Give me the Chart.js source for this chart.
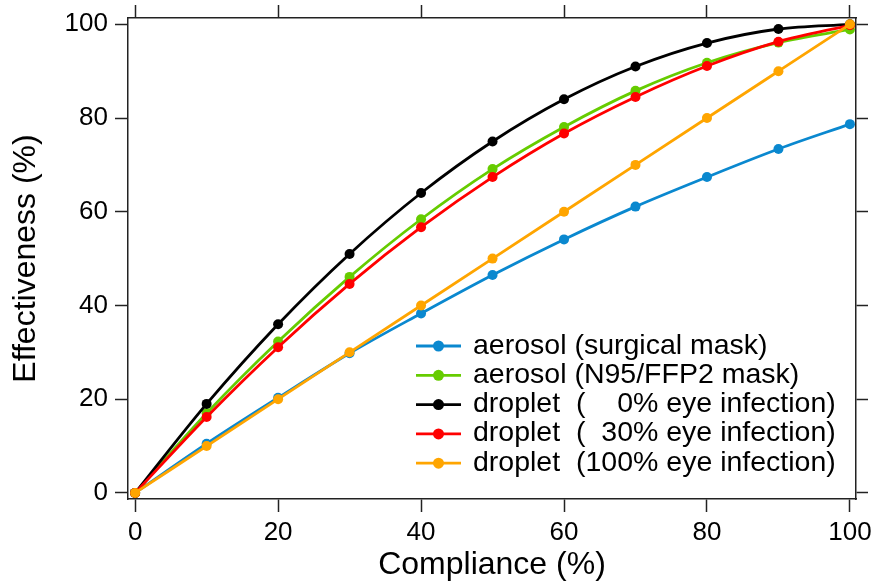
<!DOCTYPE html>
<html><head><meta charset="utf-8">
<script src="https://cdn.jsdelivr.net/npm/chart.js@4"></script>
<style>html,body{margin:0;padding:0;background:#fff;} canvas{display:block;}</style>
</head><body>
<canvas id="c" width="878" height="588"></canvas>
<script>
const compliance = [0,10,20,30,40,50,60,70,80,90,100];
const aerosolSurgical = [0,10.5,20.3,29.8,38.3,46.5,54.1,61.1,67.4,73.4,78.7];
const aerosolN95 = [0,17.0,32.3,46.1,58.4,69.1,78.1,85.8,91.8,96.1,98.9];
const droplet0 = [0,19,36,51,64,75,84,91,96,99,100];
const droplet30 = [0,16.2,31.1,44.6,56.7,67.4,76.7,84.5,91.1,96.3,99.8];
const droplet100 = [0,10,20,30,40,50,60,70,80,90,100];
const seriesLabels = ['aerosol (surgical mask)','aerosol (N95/FFP2 mask)','droplet  (    0% eye infection)','droplet  (  30% eye infection)','droplet  (100% eye infection)'];
const seriesColors = ['#0a88cf','#66cc00','#000000','#ff0000','#ffa500'];
const xTicks = [0,20,40,60,80,100];
const yTicks = [0,20,40,60,80,100];

const seriesValues = [aerosolSurgical, aerosolN95, droplet0, droplet30, droplet100];
const FONT = 'Liberation Sans';

const datasets = seriesValues.map((vals, i) => ({
  label: seriesLabels[i],
  data: compliance.map((x, j) => ({x: x, y: vals[j]})),
  borderColor: seriesColors[i],
  backgroundColor: seriesColors[i],
  pointBackgroundColor: seriesColors[i],
  pointBorderColor: seriesColors[i],
  pointBorderWidth: 0,
  pointRadius: 5,
  borderWidth: 2.8,
  cubicInterpolationMode: 'monotone',
  order: 5 - i,
  xAxisID: 'x', yAxisID: 'y'
}));

const legendPlugin = {
  id: 'customLegend',
  afterDatasetsDraw(chart) {
    const ctx = chart.ctx;
    const x0 = 416, x1 = 461, tx = 473, y0 = 346, dy = 29.3;
    ctx.save();
    chart.data.datasets.forEach((ds, i) => {
      const y = y0 + i * dy;
      ctx.strokeStyle = ds.borderColor; ctx.lineWidth = 2.8;
      ctx.beginPath(); ctx.moveTo(x0, y); ctx.lineTo(x1, y); ctx.stroke();
      ctx.fillStyle = ds.borderColor;
      ctx.beginPath(); ctx.arc((x0 + x1) / 2, y, 5.5, 0, Math.PI * 2); ctx.fill();
      ctx.fillStyle = '#000';
      ctx.font = '28.5px "' + FONT + '"';
      ctx.textBaseline = 'alphabetic'; ctx.textAlign = 'left';
      ctx.fillText(ds.label, tx, y + 7.5);
    });
    ctx.restore();
  }
};

function axis(pos, range, ticksArr, size, tickLen, showLabels, extra) {
  const horiz = pos === 'top' || pos === 'bottom';
  return Object.assign({
    type: 'linear', position: pos, min: range[0], max: range[1],
    afterBuildTicks: s => { s.ticks = ticksArr.map(v => ({value: v})); },
    afterFit: s => {
      if (horiz) s.height = size; else s.width = size;
      s.paddingTop = 0; s.paddingBottom = 0; s.paddingLeft = 0; s.paddingRight = 0;
    },
    border: {display: true, color: '#222', width: 1.5},
    grid: {drawOnChartArea: false, drawTicks: true, tickLength: tickLen, tickColor: '#222', tickWidth: 1.5},
    ticks: {display: showLabels, font: {family: FONT, size: 26}, color: '#000', padding: horiz ? 5 : 7, maxRotation: 0, autoSkip: false}
  }, extra || {});
}

const xRange = [-1, 100.85];
const yRange = [-1.3, 101.35];

new Chart(document.getElementById('c'), {
  type: 'line',
  data: {datasets: datasets},
  options: {
    responsive: false, animation: false, devicePixelRatio: 1,
    layout: {padding: 0},
    plugins: {legend: {display: false}, tooltip: {enabled: false}},
    scales: {
      x: axis('bottom', xRange, xTicks, 89, 13, true, {
        title: {display: true, text: 'Compliance (%)', font: {family: FONT, size: 32}, color: '#000', padding: {top: 0, bottom: 4}}
      }),
      x2: axis('top', xRange, xTicks, 18, 13, false),
      y: axis('left', yRange, yTicks, 128, 13, true, {
        title: {display: true, text: 'Effectiveness (%)', font: {family: FONT, size: 32}, color: '#000', padding: {top: 7, bottom: 0}}
      }),
      y2: axis('right', yRange, yTicks, 22, 12, false)
    }
  },
  plugins: [legendPlugin]
});
</script>
</body></html>
